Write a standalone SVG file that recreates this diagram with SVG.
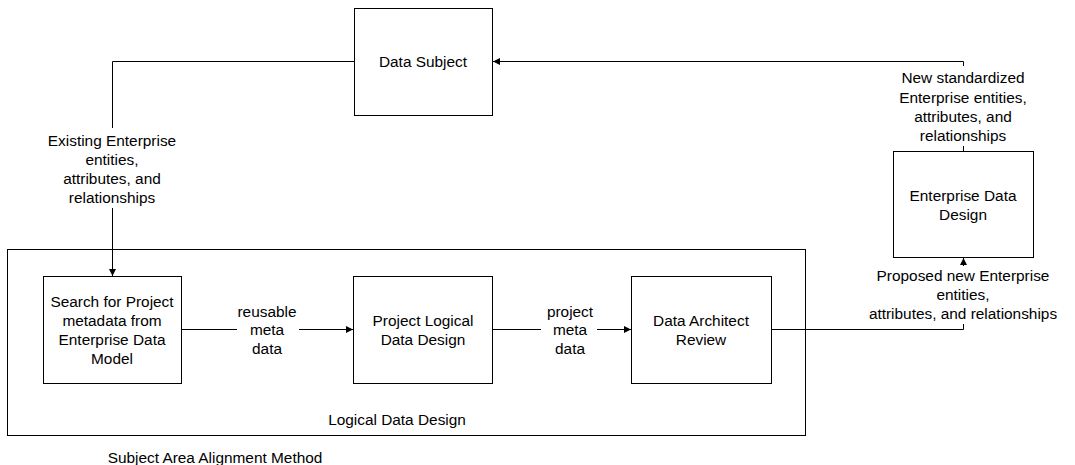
<svg xmlns="http://www.w3.org/2000/svg" width="1075" height="465" viewBox="0 0 1075 465">
<style>
.box{fill:#fff;stroke:#000;stroke-width:1}
.ln{fill:none;stroke:#000;stroke-width:1}
text{font-family:"Liberation Sans",Arial,sans-serif;font-size:15.4px;fill:#000;text-anchor:middle;dominant-baseline:central}
</style>
<defs>
<marker id="ah" viewBox="0 0 10 10" refX="10" refY="5" markerWidth="9" markerHeight="7" markerUnits="userSpaceOnUse" orient="auto">
<path d="M0,0 L10,5 L0,10 Z" fill="#000"/>
</marker>
</defs>
<rect width="1075" height="465" fill="#fff"/>
<g id="logical-data-design">
<rect class="box" x="7.5" y="249.5" width="798" height="186"/>
<text x="397" y="419">Logical Data Design</text>
</g>
<g id="data-subject">
<rect class="box" x="354.5" y="8.5" width="138" height="107"/>
<text x="423" y="61">Data Subject</text>
</g>
<g id="enterprise-data-design">
<rect class="box" x="893.5" y="151.5" width="140" height="106"/>
<text x="963" y="195">Enterprise Data</text>
<text x="963" y="214">Design</text>
</g>
<g id="search">
<rect class="box" x="43.5" y="276.5" width="138" height="107"/>
<text x="112" y="301">Search for Project</text>
<text x="112" y="320">metadata from</text>
<text x="112" y="339">Enterprise Data</text>
<text x="112" y="358">Model</text>
</g>
<g id="project-logical">
<rect class="box" x="353.5" y="276.5" width="139" height="107"/>
<text x="423" y="320">Project Logical</text>
<text x="423" y="339">Data Design</text>
</g>
<g id="data-architect">
<rect class="box" x="631.5" y="276.5" width="140" height="107"/>
<text x="701" y="320">Data Architect</text>
<text x="701" y="339">Review</text>
</g>
<g id="connectors">
<path class="ln" d="M354,61.5 H112.5 V128"/>
<path class="ln" d="M112.5,208 V276" marker-end="url(#ah)"/>
<text x="112" y="140">Existing Enterprise</text>
<text x="112" y="159">entities,</text>
<text x="112" y="178">attributes, and</text>
<text x="112" y="197">relationships</text>
<path class="ln" d="M181,329.5 H237"/>
<path class="ln" d="M299,329.5 H353" marker-end="url(#ah)"/>
<text x="267" y="311">reusable</text>
<text x="267" y="329">meta</text>
<text x="267" y="348">data</text>
<path class="ln" d="M492,329.5 H541"/>
<path class="ln" d="M597,329.5 H631" marker-end="url(#ah)"/>
<text x="570" y="311">project</text>
<text x="570" y="329">meta</text>
<text x="570" y="348">data</text>
<path class="ln" d="M771,329.5 H963.5 V324"/>
<path class="ln" d="M963.5,266 V258" marker-end="url(#ah)"/>
<text x="963" y="275">Proposed new Enterprise</text>
<text x="963" y="294">entities,</text>
<text x="963" y="313">attributes, and relationships</text>
<path class="ln" d="M963.5,151 V146"/>
<path class="ln" d="M963.5,66 V61.5 H493" marker-end="url(#ah)"/>
<text x="963" y="77">New standardized</text>
<text x="963" y="97">Enterprise entities,</text>
<text x="963" y="116">attributes, and</text>
<text x="963" y="135">relationships</text>
</g>
<text x="215" y="457">Subject Area Alignment Method</text>
</svg>
